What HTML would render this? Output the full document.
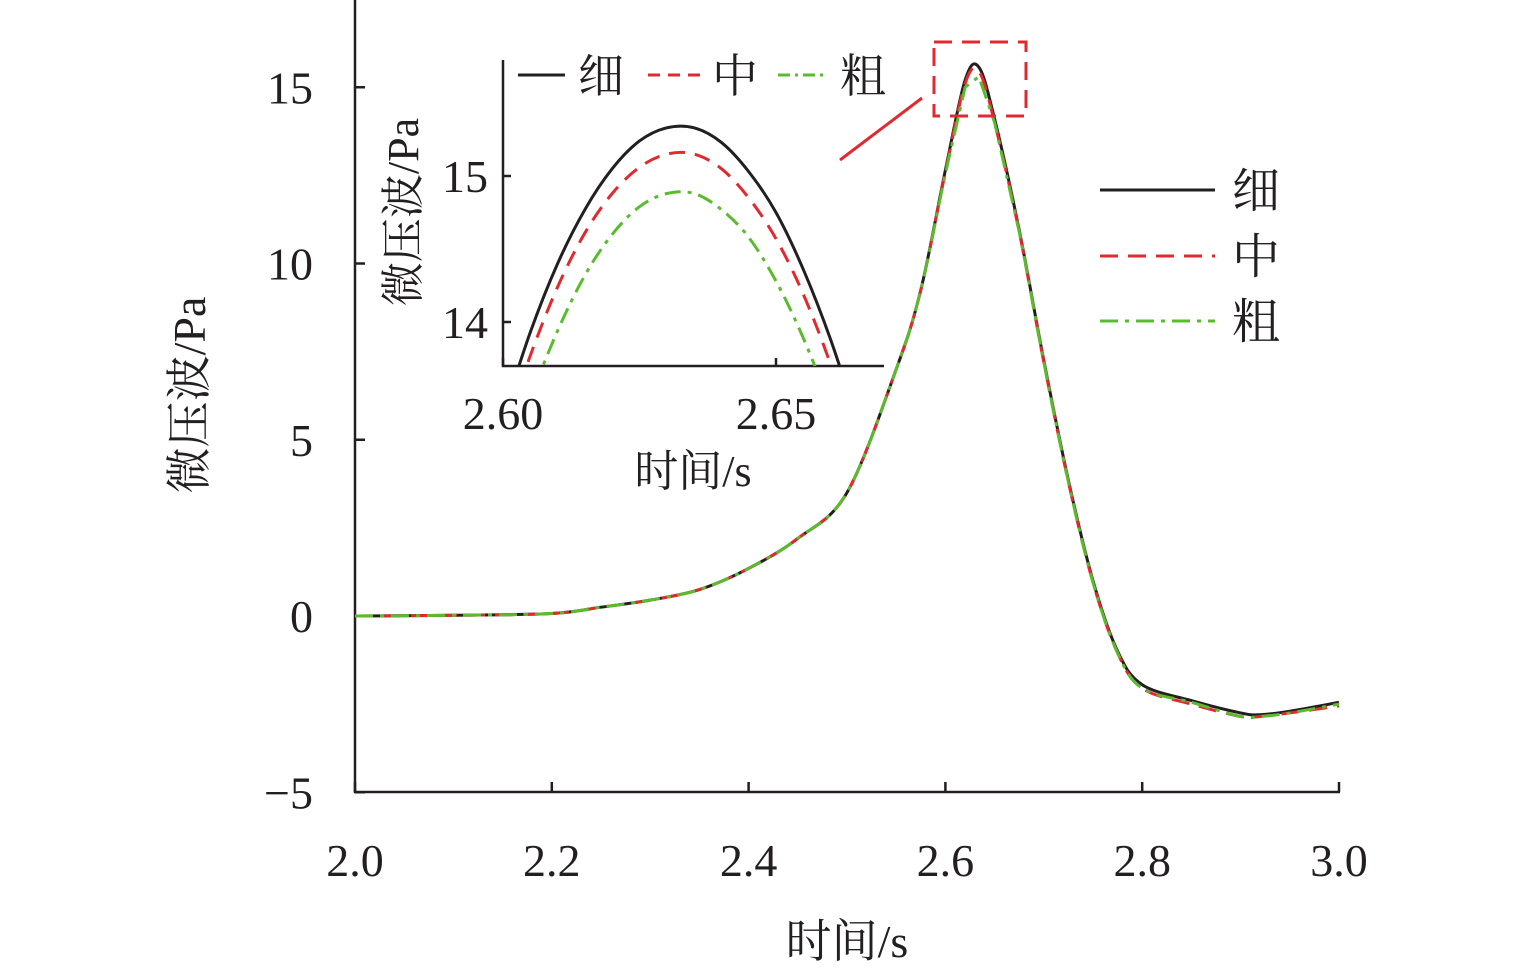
<!DOCTYPE html>
<html><head><meta charset="utf-8"><style>
html,body{margin:0;padding:0;background:#fff;}
svg text{font-family:"Liberation Serif","Noto Serif CJK SC",serif;fill:#231f20;}
</style></head><body>
<svg id="chart" width="1535" height="975" viewBox="0 0 1535 975" xmlns="http://www.w3.org/2000/svg">
<defs>
<clipPath id="mainClip"><rect x="355" y="0" width="985" height="792"/></clipPath>
<clipPath id="insetClip"><rect x="503" y="60" width="381" height="306"/></clipPath>
</defs>
<g id="main"></g>
<g id="inset"></g>
<text transform="translate(205,395) rotate(-90)" text-anchor="middle" font-size="46">微压波/Pa</text>
<text x="847" y="957" text-anchor="middle" font-size="46">时间/s</text>
<text transform="translate(418,212) rotate(-90)" text-anchor="middle" font-size="44">微压波/Pa</text>
<text x="693" y="486" text-anchor="middle" font-size="44">时间/s</text>
<rect x="934" y="42" width="92" height="74" fill="none" stroke="#e02a2f" stroke-width="3" stroke-dasharray="18,10"/>
<line x1="840" y1="160" x2="922" y2="98" stroke="#e02a2f" stroke-width="3"/>
<g>
<line x1="1100" y1="190" x2="1215" y2="190" stroke="#231f20" stroke-width="3"/>
<text x="1232" y="207" font-size="48">细</text>
<line x1="1100" y1="256" x2="1215" y2="256" stroke="#e02a2f" stroke-width="3" stroke-dasharray="18,10"/>
<text x="1232" y="273" font-size="48">中</text>
<line x1="1100" y1="321" x2="1215" y2="321" stroke="#5bbb2e" stroke-width="3" stroke-dasharray="18,7,4,7"/>
<text x="1232" y="338" font-size="48">粗</text>
</g>
<g>
<line x1="518" y1="75" x2="565" y2="75" stroke="#231f20" stroke-width="3"/>
<text x="578" y="92" font-size="46">细</text>
<line x1="648" y1="75" x2="700" y2="75" stroke="#e02a2f" stroke-width="3" stroke-dasharray="12,8"/>
<text x="712" y="92" font-size="46">中</text>
<line x1="778" y1="75" x2="828" y2="75" stroke="#5bbb2e" stroke-width="3" stroke-dasharray="12,5,3,5"/>
<text x="840" y="92" font-size="46">粗</text>
</g>
</svg>
<script>
const mainT = [2.0,2.1,2.2,2.25,2.3,2.35,2.4,2.45,2.5,2.55,2.575,2.6,2.62,2.634,2.65,2.675,2.7,2.725,2.75,2.775,2.8,2.85,2.9,2.92,2.95,3.0];
const fineVals = [0,0.02,0.07,0.25,0.45,0.75,1.35,2.2,3.5,7.0,9.25,12.65,15.2,15.57,14.1,10.95,7.25,3.85,1.0,-1.0,-1.95,-2.4,-2.75,-2.8,-2.7,-2.45];
const mediumVals = [0,0.02,0.07,0.25,0.45,0.75,1.35,2.2,3.5,7.0,9.25,12.6,15.1,15.45,14.0,10.9,7.2,3.8,0.95,-1.05,-2.05,-2.5,-2.85,-2.85,-2.75,-2.55];
const coarseVals = [0,0.02,0.07,0.25,0.45,0.75,1.35,2.2,3.5,7.0,9.25,12.55,15.0,15.3,14.0,10.9,7.2,3.8,0.95,-1.05,-2.05,-2.45,-2.85,-2.85,-2.75,-2.5];
const xTicks = ["2.0","2.2","2.4","2.6","2.8","3.0"];
const yTicks = ["-5","0","5","10","15"];

const insetT = [2.600,2.605,2.610,2.615,2.620,2.625,2.630,2.635,2.640,2.645,2.650,2.655,2.660,2.665];
const insetFine = [13.36,13.93,14.40,14.77,15.05,15.24,15.33,15.33,15.23,15.03,14.75,14.36,13.88,13.31];
const insetMedium = [13.22,13.77,14.24,14.61,14.88,15.06,15.15,15.15,15.05,14.85,14.57,14.19,13.71,13.14];
const insetCoarse = [12.90,13.47,13.94,14.32,14.60,14.79,14.88,14.88,14.77,14.58,14.28,13.89,13.41,12.82];
const insetXTicks = ["2.60","2.65"];
const insetYTicks = ["14","15"];

const NS="http://www.w3.org/2000/svg";
const X=t=>355+(t-2.0)*984;
const Y=v=>616-v*35.25;
const IX=t=>503+(t-2.60)*5460;
const IY=v=>176-(v-15)*146;
const COL={fine:"#231f20",medium:"#e02a2f",coarse:"#5bbb2e"};
const DASH={fine:"",medium:"18,10",coarse:"18,7,4,7"};
function mk(tag,attrs,parent){const e=document.createElementNS(NS,tag);for(const k in attrs)e.setAttribute(k,attrs[k]);parent.appendChild(e);return e;}
function smooth(pts,sharp){let d="M"+pts[0][0]+","+pts[0][1];for(let i=0;i<pts.length-1;i++){const p0=pts[i-1]||pts[i],p1=pts[i],p2=pts[i+1],p3=pts[i+2]||p2;
 if(sharp&&sharp(i)){d+=" L"+p2[0]+","+p2[1];continue;}
 const c1=[p1[0]+(p2[0]-p0[0])/6,p1[1]+(p2[1]-p0[1])/6],c2=[p2[0]-(p3[0]-p1[0])/6,p2[1]-(p3[1]-p1[1])/6];d+=" C"+c1[0]+","+c1[1]+" "+c2[0]+","+c2[1]+" "+p2[0]+","+p2[1];}return d;}

const main=document.getElementById('main');
let ax=mk('path',{d:"M355,0 L355,792 L1340,792",fill:"none",stroke:"#231f20","stroke-width":2.5},main);


xTicks.forEach(s=>{const x=X(parseFloat(s));
 const l=mk('line',{x1:x,y1:792,x2:x,y2:782,stroke:"#231f20","stroke-width":2.5},main);
 
 
 const t=mk('text',{x:x,y:876,"text-anchor":"middle","font-size":46},main);t.textContent=s;
 
 });
yTicks.forEach(s=>{const v=parseFloat(s),y=Y(v);
 const l=mk('line',{x1:355,y1:y,x2:365,y2:y,stroke:"#231f20","stroke-width":2.5},main);
 
 
 const t=mk('text',{x:313,y:y+16,"text-anchor":"end","font-size":46},main);t.textContent=v<0?"\u2212"+Math.abs(v):s;
 
 });
const mg=mk('g',{"clip-path":"url(#mainClip)"},main);
[["fine",fineVals],["medium",mediumVals],["coarse",coarseVals]].forEach(([k,vals])=>{
 const pts=mainT.map((t,i)=>[X(t),Y(vals[i])]);
 const p=mk('path',{d:smooth(pts,k==="coarse"?(i=>i>=11&&i<=14):null),fill:"none",stroke:COL[k],"stroke-width":3,"stroke-dasharray":DASH[k]},mg);
 
 });

const inset=document.getElementById('inset');
let iax=mk('path',{d:"M503,60 L503,366 L884,366",fill:"none",stroke:"#231f20","stroke-width":2.5},inset);


insetXTicks.forEach(s=>{const x=IX(parseFloat(s));
 const l=mk('line',{x1:x,y1:366,x2:x,y2:358,stroke:"#231f20","stroke-width":2.5},inset);
 
 
 const t=mk('text',{x:x,y:429,"text-anchor":"middle","font-size":46},inset);t.textContent=s;
 
 });
insetYTicks.forEach(s=>{const y=IY(parseFloat(s));
 const l=mk('line',{x1:503,y1:y,x2:511,y2:y,stroke:"#231f20","stroke-width":2.5},inset);
 
 
 const t=mk('text',{x:488,y:y+16,"text-anchor":"end","font-size":46},inset);t.textContent=s;
 
 });
const ig=mk('g',{"clip-path":"url(#insetClip)"},inset);
[["fine",insetFine],["medium",insetMedium],["coarse",insetCoarse]].forEach(([k,vals])=>{
 const pts=insetT.map((t,i)=>[IX(t),IY(vals[i])]);
 const p=mk('path',{d:smooth(pts,null),fill:"none",stroke:COL[k],"stroke-width":3,"stroke-dasharray":k==="medium"?"16,10":(k==="coarse"?"16,7,4,7":"")},ig);
 
 });
</script>
</body></html>
